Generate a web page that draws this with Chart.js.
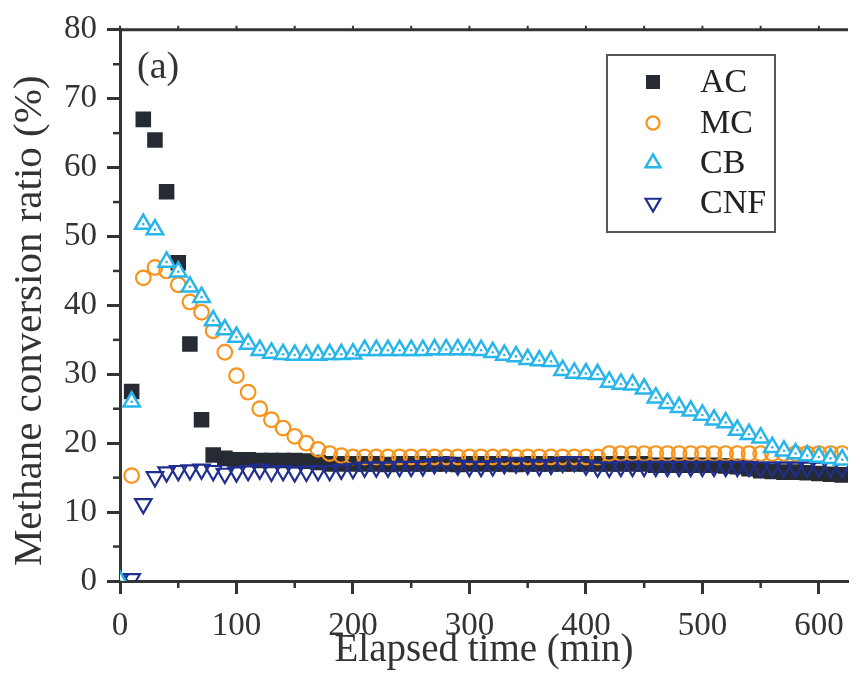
<!DOCTYPE html>
<html>
<head>
<meta charset="utf-8">
<title>Methane conversion ratio</title>
<script src="https://cdn.jsdelivr.net/npm/chart.js@4.4.1/dist/chart.umd.min.js"></script>
<style>
    body { margin: 0; background: #fff; }
    #wrap { position: relative; width: 860px; height: 677px; }
</style>
</head>
<body>
<div id="wrap"><canvas id="chart"></canvas></div>
<script>
// Sampling times (min)
const times = [0, 10, 20, 30, 40, 50, 60, 70, 80, 90,
    100, 110, 120, 130, 140, 150, 160, 170, 180, 190,
    200, 210, 220, 230, 240, 250, 260, 270, 280, 290,
    300, 310, 320, 330, 340, 350, 360, 370, 380, 390,
    400, 410, 420, 430, 440, 450, 460, 470, 480, 490,
    500, 510, 520, 530, 540, 550, 560, 570, 580, 590,
    600, 610, 620];

// Methane conversion ratio (%) per catalyst
const acValues = [null, 27.5, 67.0, 64.0, 56.5, 46.2, 34.4, 23.4, 18.3, 17.8,
    17.6, 17.6, 17.5, 17.5, 17.5, 17.5, 17.4, 17.2, 17.0, 17.0,
    17.0, 17.0, 17.0, 16.9, 17.0, 17.0, 17.0, 17.0, 17.0, 16.9,
    17.0, 17.0, 17.0, 17.0, 16.9, 17.0, 17.0, 17.0, 17.0, 17.0,
    17.0, 17.0, 17.0, 17.0, 17.0, 17.0, 16.8, 16.8, 16.8, 16.8,
    16.8, 16.8, 16.7, 16.6, 16.3, 16.0, 15.9, 15.8, 15.8, 15.7,
    15.6, 15.5, 15.4];
const mcValues = [null, 15.3, 44.0, 45.5, 45.0, 43.0, 40.5, 39.0, 36.3, 33.2,
    29.8, 27.4, 25.0, 23.4, 22.2, 21.0, 20.0, 19.1, 18.5, 18.2,
    18.0, 18.0, 18.0, 18.0, 18.0, 18.0, 18.0, 18.0, 18.0, 18.0,
    18.0, 18.0, 18.0, 18.0, 18.0, 18.0, 18.0, 18.0, 18.0, 18.0,
    18.0, 18.0, 18.5, 18.5, 18.5, 18.5, 18.5, 18.5, 18.5, 18.5,
    18.5, 18.5, 18.5, 18.5, 18.5, 18.5, 18.5, 18.5, 18.5, 18.5,
    18.5, 18.5, 18.5];
const cbValues = [0, 26.0, 51.8, 51.0, 46.3, 44.9, 42.7, 41.2, 37.8, 36.5,
    35.4, 34.4, 33.5, 33.1, 32.9, 32.8, 32.8, 32.8, 32.9, 32.9,
    33.0, 33.5, 33.5, 33.5, 33.5, 33.5, 33.5, 33.6, 33.6, 33.6,
    33.6, 33.5, 33.2, 32.8, 32.6, 32.2, 32.0, 31.9, 30.6, 30.2,
    30.1, 30.0, 28.9, 28.6, 28.5, 27.9, 26.6, 25.8, 25.2, 24.7,
    24.1, 23.4, 23.0, 21.9, 21.3, 20.8, 19.4, 18.9, 18.5, 18.2,
    18.0, 17.8, 17.6];
const cnfValues = [0.3, 0.3, 11.2, 15.1, 15.8, 16.0, 16.1, 16.2, 16.0, 15.6,
    15.8, 16.0, 16.2, 15.9, 16.0, 15.8, 15.9, 16.0, 16.0, 16.2,
    16.3, 16.5, 16.5, 16.5, 16.6, 16.6, 16.7, 17.0, 17.2, 16.8,
    16.6, 16.6, 16.7, 17.0, 17.1, 16.9, 16.7, 16.9, 17.2, 17.3,
    16.8, 16.5, 16.5, 16.6, 16.6, 16.6, 16.6, 16.6, 16.6, 16.6,
    16.6, 16.6, 16.6, 16.6, 16.6, 16.5, 16.5, 16.5, 16.5, 16.5,
    16.5, 16.5, 16.5];

// Axis ticks
const xMajorStep = 100;
const yMajorStep = 10;
const minorXTicks = [50, 150, 250, 350, 450, 550];
const minorYTicks = [5, 15, 25, 35, 45, 55, 65, 75];
const topXTicks = [0, 50, 100, 150, 200, 250, 300, 350, 400, 450, 500, 550, 600];

const seriesNames = ['AC', 'MC', 'CB', 'CNF'];

const axisColor = '#333333';
const serif = "'Liberation Serif', 'Times New Roman', serif";

// Marker look of each series (also used by the legend)
const markers = {
    AC:  { pointStyle: 'rect',     radius: 11,  rotation: 0,   fill: '#262a33', stroke: '#262a33', width: 0 },
    MC:  { pointStyle: 'circle',   radius: 7.3, rotation: 0,   fill: 'rgba(0,0,0,0)', stroke: '#f7941d', width: 2.2 },
    CB:  { pointStyle: 'triangle', radius: 9.5, rotation: 0,   fill: '#ffffff', stroke: '#27b5ea', width: 2.5 },
    CNF: { pointStyle: 'triangle', radius: 9.5, rotation: 180, fill: 'rgba(0,0,0,0)', stroke: '#1f2e8f', width: 2.2 }
};

function toPoints(values) {
    const points = [];
    times.forEach((t, i) => {
        if (values[i] !== null) points.push({ x: t, y: values[i] });
    });
    return points;
}

function makeDataset(name, values, order) {
    const m = markers[name];
    return {
        label: name,
        data: toPoints(values),
        showLine: false,
        order: order,
        pointStyle: m.pointStyle,
        pointRadius: m.radius,
        pointHoverRadius: m.radius,
        pointRotation: m.rotation,
        backgroundColor: m.fill,
        borderColor: m.stroke,
        borderWidth: m.width
    };
}

// Frame line on top, minor ticks, the panel label and the legend box
const extrasPlugin = {
    id: 'extras',
    afterDraw(chart) {
        const ctx = chart.ctx;
        const area = chart.chartArea;
        const xs = chart.scales.x;
        const ys = chart.scales.y;

        function line(x1, y1, x2, y2) {
            ctx.beginPath();
            ctx.moveTo(x1, y1);
            ctx.lineTo(x2, y2);
            ctx.stroke();
        }

        ctx.save();
        ctx.strokeStyle = axisColor;
        ctx.lineWidth = 3;
        line(area.left - 1.5, area.top, area.right, area.top);

        ctx.lineWidth = 2.5;
        minorXTicks.forEach(v => {
            const px = xs.getPixelForValue(v);
            line(px, area.bottom, px, area.bottom + 7);
        });
        minorYTicks.forEach(v => {
            const py = ys.getPixelForValue(v);
            line(area.left - 7, py, area.left, py);
        });
        ctx.lineWidth = 2;
        topXTicks.forEach(v => {
            const px = xs.getPixelForValue(v);
            line(px, area.top, px, area.top - 4);
        });

        // panel label
        ctx.fillStyle = '#333';
        ctx.font = '38px ' + serif;
        ctx.textBaseline = 'middle';
        ctx.textAlign = 'left';
        ctx.fillText('(a)', area.left + 17, area.top + 38);

        // legend
        const box = { left: 607, top: 55, right: 775, bottom: 232 };
        ctx.fillStyle = '#ffffff';
        ctx.fillRect(box.left, box.top, box.right - box.left, box.bottom - box.top);
        ctx.strokeStyle = '#555';
        ctx.lineWidth = 2;
        ctx.strokeRect(box.left, box.top, box.right - box.left, box.bottom - box.top);

        const rowY = [82, 123, 163, 203];
        ctx.font = '34px ' + serif;
        seriesNames.forEach((name, i) => {
            const m = markers[name];
            ctx.fillStyle = m.fill;
            ctx.strokeStyle = m.stroke;
            ctx.lineWidth = m.width;
            Chart.helpers.drawPoint(ctx, {
                pointStyle: m.pointStyle,
                radius: m.radius * 0.9,
                rotation: m.rotation,
                borderWidth: m.width
            }, 653, rowY[i]);
            ctx.fillStyle = '#222';
            ctx.fillText(name, 700, rowY[i] + 1);
        });
        ctx.restore();
    }
};

const cbDots = {
    label: 'CB centre',
    data: toPoints(cbValues),
    showLine: false,
    order: 0,
    pointStyle: 'circle',
    pointRadius: 1.3,
    backgroundColor: '#27b5ea',
    borderWidth: 0
};

const chart = new Chart(document.getElementById('chart'), {
    type: 'scatter',
    data: {
        datasets: [
            makeDataset('AC', acValues, 4),
            makeDataset('MC', mcValues, 3),
            makeDataset('CNF', cnfValues, 2),
            makeDataset('CB', cbValues, 1),
            cbDots
        ]
    },
    options: {
        responsive: true,
        maintainAspectRatio: false,
        animation: false,
        events: [],
        layout: { padding: { top: 28, right: 0, bottom: 0, left: 0 } },
        plugins: {
            legend: { display: false },
            tooltip: { enabled: false }
        },
        scales: {
            x: {
                type: 'linear',
                min: 0,
                max: 625,
                afterFit: scale => { scale.height = 96; },
                ticks: {
                    stepSize: xMajorStep,
                    includeBounds: false,
                    padding: 13,
                    color: '#333',
                    font: { family: serif, size: 33 }
                },
                grid: {
                    drawOnChartArea: false,
                    drawTicks: true,
                    tickLength: 13,
                    tickWidth: 3,
                    tickColor: axisColor
                },
                border: { color: axisColor, width: 3 },
                title: {
                    display: true,
                    text: 'Elapsed time (min)',
                    color: '#333',
                    font: { family: serif, size: 39 },
                    padding: { top: 0, bottom: 3 }
                }
            },
            y: {
                type: 'linear',
                min: 0,
                max: 80,
                afterFit: scale => { scale.width = 120; },
                ticks: {
                    stepSize: yMajorStep,
                    padding: 10,
                    color: '#333',
                    font: { family: serif, size: 33 }
                },
                grid: {
                    drawOnChartArea: false,
                    drawTicks: true,
                    tickLength: 13,
                    tickWidth: 3,
                    tickColor: axisColor
                },
                border: { color: axisColor, width: 3 },
                title: {
                    display: true,
                    // trailing spaces push the visible text a little down the axis, as in the figure
                    text: 'Methane conversion ratio (%)   ',
                    color: '#333',
                    font: { family: serif, size: 41 },
                    padding: { top: 6, bottom: 0 }
                }
            }
        }
    },
    plugins: [extrasPlugin]
});
</script>
</body>
</html>
